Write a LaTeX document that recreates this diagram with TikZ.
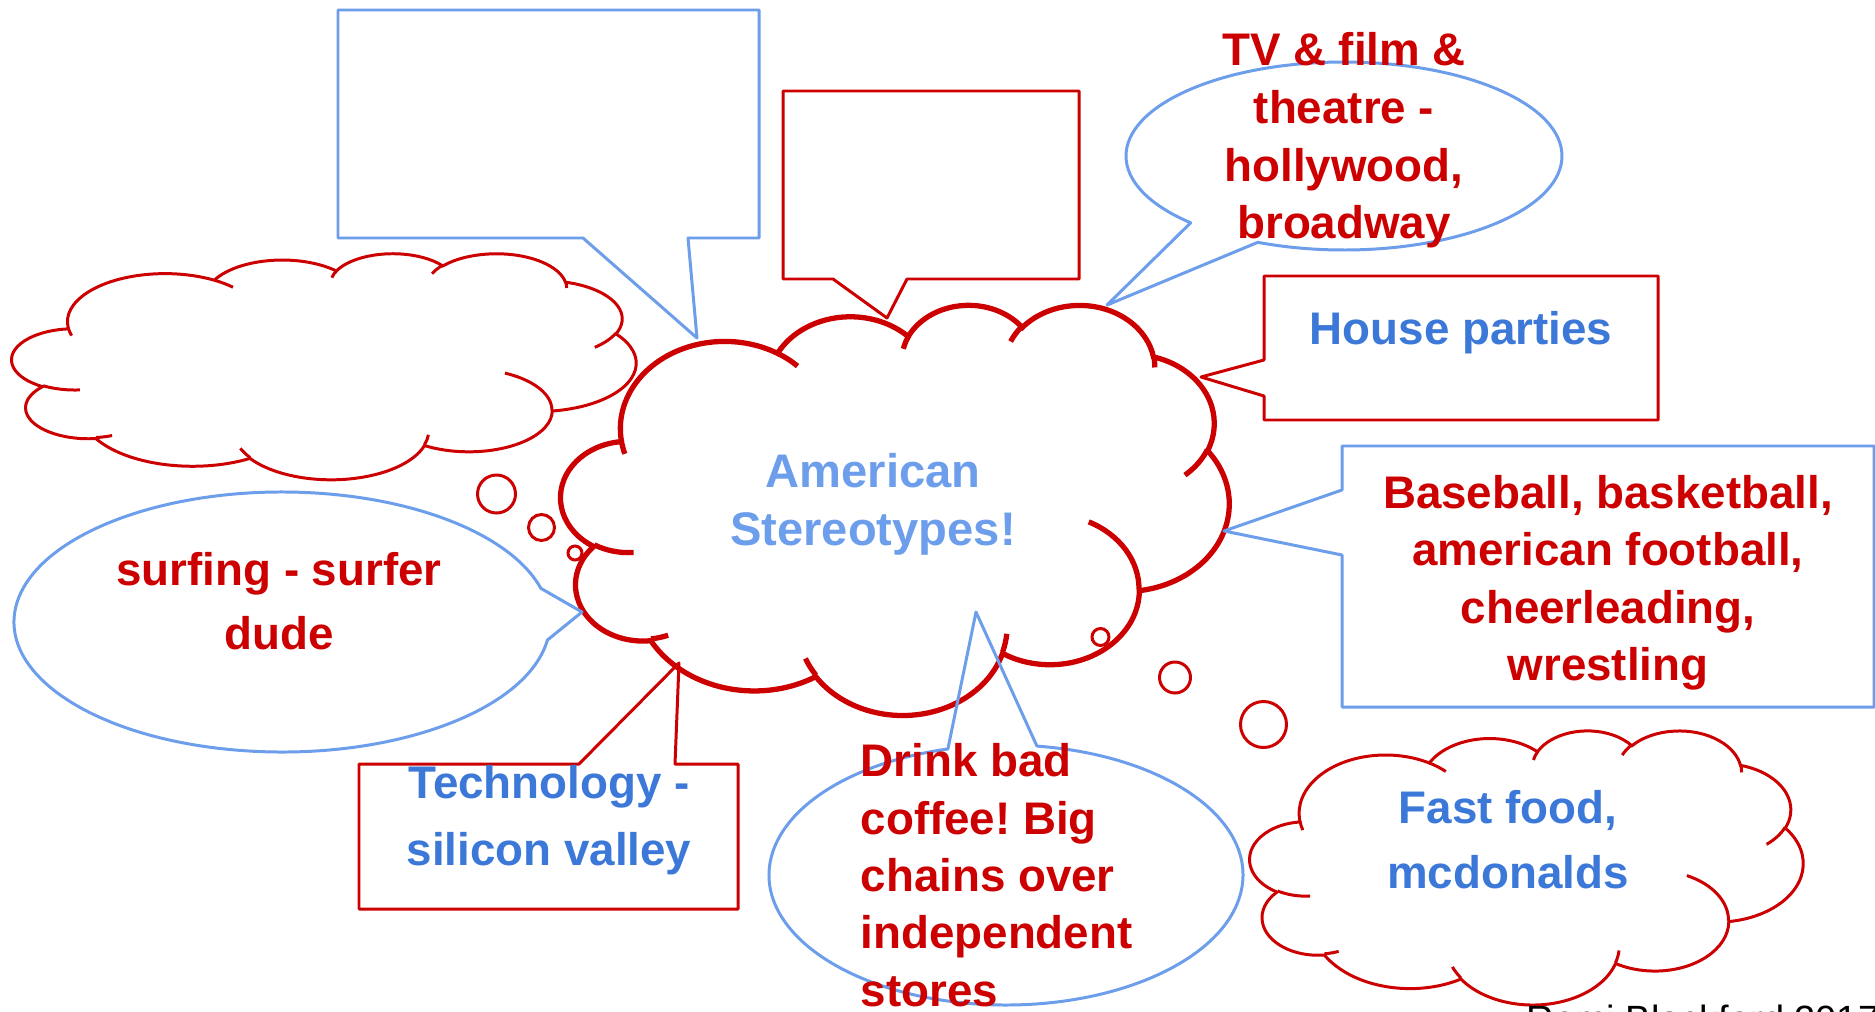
\documentclass[tikz,border=0pt]{standalone}
\usepackage{fontspec}
\setmainfont{Liberation Sans}
\frenchspacing
\definecolor{cred}{HTML}{CC0000}
\definecolor{cblue}{HTML}{6D9EEB}
\definecolor{dblue}{HTML}{3C78D8}
\newcommand\tstr{\rule{0pt}{1em}}
\tikzset{
 carc/.style n args={4}{insert path={arc[start angle={atan2((#1)*sin(#3),(#2)*cos(#3))}, delta angle={mod(atan2((#1)*sin((#3)+(#4)),(#2)*cos((#3)+(#4)))-atan2((#1)*sin(#3),(#2)*cos(#3))+720,360)}, x radius=#1, y radius=#2]}},
 pics/pptcloud/.style={code={
  \path[pic actions] (39,143.7)
   [carc={67.53}{91.9}{-190.4875}{123.7805}]
   [carc={53.33}{72.67}{-144.1024}{89.9452}]
   [carc={43.65}{59.45}{-145.8079}{99.723}]
   [carc={48.57}{65.95}{-130.9861}{117.2417}]
   [carc={53.33}{72.73}{-78.7089}{109.0269}]
   [carc={67.75}{92.2}{-46.2673}{130.269}]
   [carc={57.85}{78.67}{0.625}{114.0333}]
   [carc={67.52}{92.15}{22.4516}{115.1726}]
   [carc={77.2}{105.43}{66.2426}{75.711}]
   [carc={43.6}{59.18}{-274.9421}{146.7356}]
   [carc={43.45}{59.45}{-246.8285}{152.5189}] -- cycle;
  \path[pic actions]
   (46.93,261.77) [carc={43.45}{59.45}{86.742}{26.4295}]
   (69.28,348.99) [carc={43.6}{59.18}{73.6105}{11.4475}]
   (164.78,390.9) [carc={67.52}{92.15}{137.6242}{14.0811}]
   (288.27,347.51) [carc={67.52}{92.15}{6.4533}{15.9984}]
   (341.29,229.54) [carc={57.85}{78.67}{-70.2924}{70.9174}]
   (417.98,153.54) [carc={53.33}{72.73}{30.318}{27.7515}]
   (383.24,54.26) [carc={48.57}{65.95}{-13.7443}{14.8589}]
   (290.78,39.52) [carc={48.57}{65.95}{-149.1815}{18.1954}]
   (221.41,47.2) [carc={43.65}{59.45}{-163.4943}{17.6864}]
   (140,51.92) [carc={67.53}{91.9}{-66.707}{12.3194}]
   (41.27,157.89) [carc={67.53}{91.9}{157.6544}{11.8582}];
 }},
 callout/.style={line width=0.85pt, line join=round},
 bubble/.style={draw=cred, line width=0.85pt},
 ttext/.style={inner sep=0pt, font=\fontsize{13pt}{16.4pt}\selectfont\bfseries},
}
\begin{document}
\begin{tikzpicture}[x=0.01cm,y=-0.01cm]
\useasboundingbox (0,0) rectangle (1875,1012);
\fill[white] (0,0) rectangle (1875,1012);

% clouds
\pic[draw=cred, line width=0.85pt, xscale=1.4444, yscale=0.5231] (leftcloud) at (12,253) {pptcloud};
\pic[draw=cred, line width=1.5pt, xscale=1.5463, yscale=0.9491] (maincloud) at (561,304) {pptcloud};
\pic[draw=cred, line width=0.85pt, xscale=1.2801, yscale=0.6343] (foodcloud) at (1250,730) {pptcloud};

% thought bubbles
\draw[bubble] (496.5,494) circle[radius=19];
\draw[bubble] (541.5,527.5) circle[radius=13];
\draw[bubble] (575,553) circle[radius=7];
\draw[bubble] (1100.5,637) circle[radius=8.5];
\draw[bubble] (1175,677.5) circle[radius=15.5];
\draw[bubble] (1263.5,724.5) circle[radius=23];

% rectangular callouts
\draw[callout, cblue] (338,10) -- (759,10) -- (759,238) -- (688,238) -- (697,338) -- (583,238) -- (338,238) -- cycle;
\draw[callout, cred] (783,91) -- (1079,91) -- (1079,279) -- (907,279) -- (887,318) -- (833,279) -- (783,279) -- cycle;
\draw[callout, cred] (1264,276) -- (1658,276) -- (1658,420) -- (1264,420) -- (1264,396) -- (1201,377) -- (1264,360) -- cycle;
\draw[callout, cblue] (1342,446) -- (1874,446) -- (1874,707) -- (1342,707) -- (1342,555) -- (1224,531) -- (1342,490) -- cycle;
\draw[callout, cred] (359,764) -- (579,764) -- (679,663) -- (675,764) -- (738,764) -- (738,909) -- (359,909) -- cycle;

% elliptical callouts
\draw[callout, cblue] (1107,305) -- ([shift={(1344,156)}]134.7:218 and 94) arc[start angle=134.7, delta angle=338.6, x radius=218, y radius=94] -- cycle;
\draw[callout, cblue] (582,612) -- ([shift={(282,622)}]8:268 and 130) arc[start angle=8, delta angle=337, x radius=268, y radius=130] -- cycle;
\draw[callout, cblue] (976,612) -- ([shift={(1006,875)}]-82.5:237 and 130) arc[start angle=-82.5, delta angle=338.3, x radius=237, y radius=130] -- cycle;

% texts
\node[ttext, text=cred, anchor=north, align=center] (tvtext) at (1344,19.3) {\tstr TV \& film \&\\theatre -\\hollywood,\\broadway};
\node[ttext, text=dblue, anchor=north, align=center] (housetext) at (1461,298) {\tstr House parties};
\node[ttext, text=cred, anchor=north, align=center, font=\fontsize{13pt}{16.3pt}\selectfont\bfseries] (sporttext) at (1608,462) {\tstr Baseball, basketball,\\american football,\\cheerleading,\\wrestling};
\node[ttext, text=cblue, anchor=north, align=center, font=\fontsize{13.4pt}{16.5pt}\selectfont\bfseries] (maintext) at (873,439.9) {\tstr American\\Stereotypes!};
\node[ttext, text=cred, anchor=north, align=center, font=\fontsize{13pt}{18.2pt}\selectfont\bfseries] (surftext) at (279,539.3) {\tstr surfing - surfer\\dude};
\node[ttext, text=dblue, anchor=north, align=center, font=\fontsize{13pt}{19pt}\selectfont\bfseries] (techtext) at (549,752.3) {\tstr Technology -\\silicon valley};
\node[ttext, text=cred, anchor=north west, align=left, font=\fontsize{13pt}{16.3pt}\selectfont\bfseries] (coffeetext) at (860,730.3) {\tstr Drink bad\\coffee! Big\\chains over\\independent\\stores};
\node[ttext, text=dblue, anchor=north, align=center, font=\fontsize{13pt}{18.5pt}\selectfont\bfseries] (foodtext) at (1508,777.3) {\tstr Fast food,\\mcdonalds};
\node[inner sep=0pt, anchor=base west, font=\fontsize{10.8pt}{13pt}\selectfont] (credit) at (1526,1032) {Remi Blackford 2017};
\end{tikzpicture}
\end{document}
